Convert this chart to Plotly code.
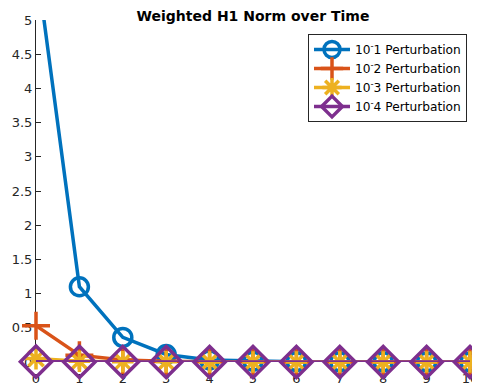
import plotly.graph_objects as go

x = list(range(11))
s1 = [5.88, 1.10, 0.36, 0.11, 0.03, 0.012, 0.005, 0.003, 0.002, 0.001, 0.001]
s2 = [0.53, 0.10, 0.03, 0.010, 0.004, 0.002, 0.001, 0.001, 0.001, 0.0005, 0.0005]
s3 = [0.05, 0.010, 0.004, 0.002, 0.001, 0.0005, 0.0003, 0.0002, 0.0001, 0.0001, 0.0001]
s4 = [0.005, 0.001, 0.0005, 0.0002, 0.0001, 0.0001, 0.0, 0.0, 0.0, 0.0, 0.0]
names = ["10<sup>-</sup>1 Perturbation", "10<sup>-</sup>2 Perturbation",
         "10<sup>-</sup>3 Perturbation", "10<sup>-</sup>4 Perturbation"]
colors = ["#0072BD", "#D95319", "#EDB120", "#7E2F8E"]
symbols = ["circle-open", "cross-thin-open", "asterisk-open", "diamond-open"]
sizes = [18, 20, 18, 24]

W, H = 472, 379
L, R, T, B = 28, 10, 12, 25

fig = go.Figure()
for ys, n, c, s, sz in zip([s1, s2, s3, s4], names, colors, symbols, sizes):
    fig.add_trace(go.Scatter(
        x=x, y=ys, name=n, mode="lines+markers", cliponaxis=False,
        line=dict(color=c, width=3.5),
        marker=dict(symbol=s, size=sz, color=c, line=dict(color=c, width=3.5)),
    ))

pw = W - L - R
ph = H - T - B
fig.update_layout(
    width=W, height=H,
    margin=dict(l=L, r=R, t=T, b=B, autoexpand=False),
    paper_bgcolor="white", plot_bgcolor="white",
    font=dict(family="DejaVu Sans", size=13, color="#262626"),
    title=dict(text="<b>Weighted H1 Norm over Time</b>", x=(L + pw / 2) / W,
               xanchor="center", y=1 - 8 / H, yanchor="middle",
               font=dict(size=14, color="black")),
    legend=dict(x=(300 - L) / pw, y=1 - (26 - T) / ph, xanchor="left", yanchor="top",
                bgcolor="white", bordercolor="#262626", borderwidth=1,
                font=dict(size=12.2, color="black"), tracegroupgap=0,
                itemwidth=36),
    showlegend=True,
)
fig.update_xaxes(range=[0, 10], tickvals=x, ticks="inside", ticklen=5,
                 tickcolor="#262626", showgrid=False, zeroline=False,
                 showline=False, layer="below traces", ticklabelstandoff=7)
fig.update_yaxes(range=[0, 5], tickvals=[0, 0.5, 1, 1.5, 2, 2.5, 3, 3.5, 4, 4.5, 5],
                 ticktext=["0", "0.5", "1", "1.5", "2", "2.5", "3", "3.5", "4", "4.5", "5"],
                 ticks="inside", ticklen=5, tickcolor="#262626", showgrid=False,
                 zeroline=False, showline=True, linecolor="#262626", linewidth=1,
                 layer="below traces")
fig.write_html("out.html")
